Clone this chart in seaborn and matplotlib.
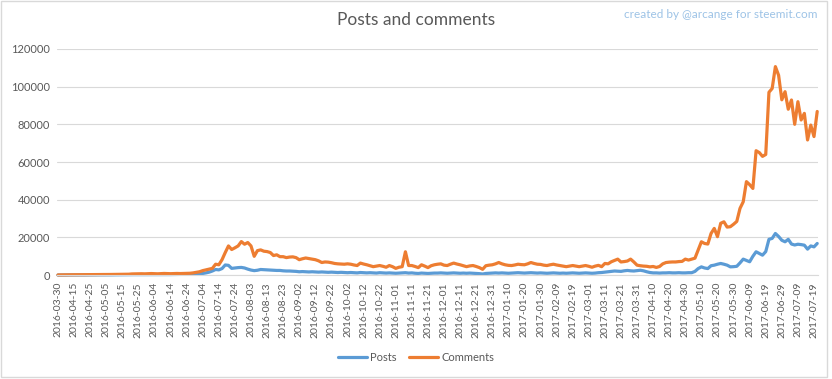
import pandas as pd
import matplotlib
matplotlib.use("Agg")
import matplotlib.pyplot as plt
import seaborn as sns

# Category labels shown on the x axis (every 10th day)
tick_labels = [
    "2016-03-30", "2016-04-15", "2016-04-25", "2016-05-05", "2016-05-15", "2016-05-25",
    "2016-06-04", "2016-06-14", "2016-06-24", "2016-07-04", "2016-07-14", "2016-07-24",
    "2016-08-03", "2016-08-13", "2016-08-23", "2016-09-02", "2016-09-12", "2016-09-22",
    "2016-10-02", "2016-10-12", "2016-10-22", "2016-11-01", "2016-11-11", "2016-11-21",
    "2016-12-01", "2016-12-11", "2016-12-21", "2016-12-31", "2017-01-10", "2017-01-20",
    "2017-01-30", "2017-02-09", "2017-02-19", "2017-03-01", "2017-03-11", "2017-03-21",
    "2017-03-31", "2017-04-10", "2017-04-20", "2017-04-30", "2017-05-10", "2017-05-20",
    "2017-05-30", "2017-06-09", "2017-06-19", "2017-06-29", "2017-07-09", "2017-07-19",
]

# Day index of each value (every second day of the category axis)
day_index = list(range(0, 473, 2))

posts = [
    60, 80, 90, 100, 110, 100, 120, 130, 120, 140, 150, 140, 160, 170, 160,
    180, 190, 180, 200, 210, 220, 230, 250, 260, 280, 270, 260, 280, 300, 290,
    280, 300, 320, 310, 300, 320, 340, 330, 350, 380, 420, 460, 500, 550,
    700, 900, 1200, 1600, 2200, 3000, 2800, 3500, 5400, 5200, 3600, 3800, 4000, 4100,
    3800, 3200, 2700, 2400, 2600, 3000, 2900, 2800, 2700, 2600, 2500, 2500, 2300, 2200,
    2200, 2100, 2000, 1800, 1900, 1800, 1700, 1800, 1700, 1600, 1700, 1600, 1500, 1600,
    1500, 1400, 1500, 1400, 1300, 1400, 1300, 1200, 1400, 1300, 1200, 1300, 1200, 1100,
    1300, 1200, 1100, 1200, 1100, 1000, 1100, 1200, 1300, 1100, 1200, 1000, 900, 1100,
    1000, 900, 1000, 1100,
    1100, 1200, 1100, 1000, 1100, 1200, 1100, 1000, 1100, 1000, 1100, 1000, 900, 800,
    600, 900, 1000, 1100, 1200, 1100, 1200, 1100, 1000, 1100, 1200, 1300, 1200, 1100,
    1200, 1300, 1200, 1100, 1200, 1100, 1000, 1100, 1200, 1100, 1000, 1100, 1000, 1100,
    1200, 1100, 1000, 1100, 1200, 1100, 1000, 1100, 1300,
    1400, 1600, 1800, 2000, 2200, 2100, 2000, 2300, 2500, 2300, 2200, 2400, 2600, 2300,
    1800, 1400, 1200, 1200, 1100, 1200, 1200, 1300, 1200, 1200, 1300, 1200, 1200, 1300,
    1300, 2000,
    3500, 4400, 3800, 3500, 5000, 5300, 5800, 6200, 5800, 5300, 4400, 4500, 4700, 6500,
    8500, 7800, 7100, 10000, 12400, 11500, 10600, 12500, 19000, 19500, 22100, 20500,
    18500, 17700, 19000, 16500, 16000, 16400, 16200, 15900, 13800, 15500, 15000, 16800,
]

comments = [
    120, 150, 180, 160, 200, 220, 210, 240, 260, 250, 280, 300, 290, 320, 340,
    330, 360, 380, 370, 400, 420, 450, 500, 650, 700, 800, 750, 700, 800, 850,
    780, 720, 800, 900, 820, 780, 850, 900, 850, 900, 950, 1000, 1200, 1500,
    1800, 2400, 2800, 3200, 3600, 5800, 5500, 8200, 12000, 15500, 13600, 14500, 15500, 17800,
    16400, 17300, 15500, 10000, 13000, 13400, 12700, 12500, 12000, 10400, 10800, 9800, 9800, 9300,
    9600, 9700, 9300, 8200, 8700, 9100, 8800, 8500, 8200, 7600, 6700, 7000, 6900, 6600,
    6200, 6000, 5900, 5800, 6000, 5800, 5400, 5100, 6400, 5900, 5500, 5000, 4500, 4800,
    5100, 4700, 4200, 5100, 4500, 3600, 4200, 4500, 12400, 5100, 5100, 4600, 4000, 5500,
    4800, 4000, 5000, 5500,
    5800, 6000, 5300, 5100, 5800, 6400, 5900, 5500, 5000, 4500, 4900, 5100, 4600, 4000,
    3100, 5000, 5300, 5500, 6000, 6700, 6000, 5500, 5200, 5100, 5400, 5800, 5600, 5500,
    6000, 6700, 6200, 5800, 5700, 5300, 5100, 5500, 5800, 5400, 5100, 4800, 4500, 4800,
    5100, 4800, 4500, 4800, 5100, 4700, 4200, 4800, 5200,
    4500, 6200, 6000, 7100, 7800, 8500, 7000, 7200, 7500, 8500, 7000, 5300, 5000, 4800,
    4700, 4400, 4600, 4100, 4600, 6000, 6700, 6900, 7000, 7000, 7200, 7300, 8500, 8000,
    8500, 9000,
    13300, 17700, 16800, 16500, 22100, 24800, 20400, 27500, 28300, 25500, 25700, 27000,
    28500, 35400, 38900, 49600, 48000, 46000, 66000, 65000, 63000, 64000, 97000, 99000,
    110600, 106000, 93000, 97300, 88000, 92900, 80000, 92000, 82300, 85800, 71700, 79600,
    73500, 86800,
]

sns.set_style("white")
plt.rcParams['font.family'] = ['Lato', 'DejaVu Sans']

text_grey = '#595959'
grid_grey = '#d9d9d9'

df = pd.DataFrame({
    'day': day_index + day_index,
    'count': posts + comments,
    'series': ['Posts'] * len(posts) + ['Comments'] * len(comments),
})

fig = plt.figure(figsize=(8.32, 3.79), dpi=100)
ax = fig.add_axes([0.0685, 0.274, 0.9145, 0.597])

sns.lineplot(data=df, x='day', y='count', hue='series',
             palette={'Posts': '#5b9bd5', 'Comments': '#ed7d31'},
             linewidth=2.3, ax=ax)
for line in ax.lines:
    line.set_clip_on(False)
    line.set_solid_joinstyle('round')

ax.set_xlim(-0.6, 472.4)
ax.set_ylim(0, 120000)
ax.set_yticks(range(0, 120001, 20000))
ax.set_yticklabels([str(v) for v in range(0, 120001, 20000)], fontsize=8, color=text_grey)
ax.set_xticks(range(0, 471, 10))
ax.set_xticklabels(tick_labels, rotation=90, fontsize=7.5, color=text_grey)
ax.tick_params(length=0, pad=5)
ax.set_xlabel("")
ax.set_ylabel("")

ax.yaxis.grid(True, color=grid_grey, linewidth=0.8)
ax.set_axisbelow(True)
for side in ['top', 'right', 'left']:
    ax.spines[side].set_visible(False)
ax.spines['bottom'].set_color(grid_grey)
ax.spines['bottom'].set_linewidth(0.8)

handles, labels = ax.get_legend_handles_labels()
ax.get_legend().remove()
fig.legend(handles, labels, loc='center', bbox_to_anchor=(0.5, 0.058), ncol=2,
           frameon=False, fontsize=8, handlelength=2.6, handletextpad=0.25,
           columnspacing=1.2, labelcolor=text_grey)

fig.text(0.5, 1 - 20 / 379, "Posts and comments", ha='center', va='center',
         fontsize=12.5, color=text_grey)
fig.text(818 / 832, 1 - 15 / 379, "created by @arcange for steemit.com", ha='right',
         va='center', fontsize=8.5, color='#9dc3e6')

# thin chart border like the spreadsheet export
fig.add_artist(plt.Rectangle((0.0012, 0.0053), 0.993, 0.992, transform=fig.transFigure,
                             fill=False, edgecolor=grid_grey, linewidth=1))

fig.savefig("out.png", dpi=100)
